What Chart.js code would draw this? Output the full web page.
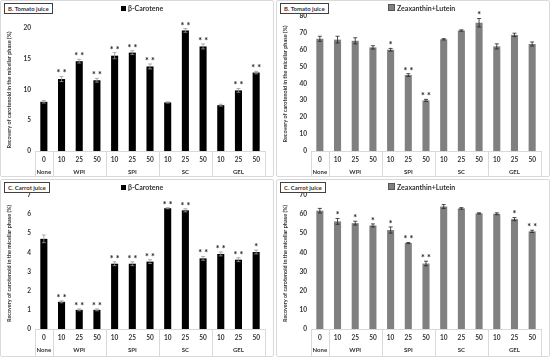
<!DOCTYPE html>
<html>
<head>
<meta charset="utf-8">
<script src="https://cdn.jsdelivr.net/npm/chart.js@4.4.1/dist/chart.umd.min.js"></script>
<style>
  body { margin: 0; background: #fff; width: 550px; height: 357px; position: relative; overflow: hidden; font-family: Lato, "Open Sans", sans-serif; }
  .panel { position: absolute; border: 1px solid #d9d9d9; border-radius: 2px; box-sizing: border-box; }
  .panel canvas { position: absolute; left: 0; top: 0; }
  .tag { position: absolute; left: 3px; top: 2px; border: 1px solid #404040; font-size: 6px; font-weight: bold; color: #333; padding: 1px 3px; line-height: 7px; background: #fff; white-space: nowrap; }
  .leg { position: absolute; top: 3px; font-size: 7px; font-weight: bold; color: #333; white-space: nowrap; line-height: 9px; }
  .sw { display: inline-block; width: 5px; height: 5px; margin-right: 2px; vertical-align: 0px; }
</style>
</head>
<body>
<div class="panel" style="left:0;top:0;width:274px;height:177px">
  <canvas id="c1" width="272" height="175"></canvas>
  <div class="tag">B. Tomato juice</div>
  <div class="leg" style="left:120px"><span class="sw" style="background:#000"></span>β-Carotene</div>
</div>
<div class="panel" style="left:276px;top:0;width:274px;height:177px">
  <canvas id="c2" width="272" height="175"></canvas>
  <div class="tag">B. Tomato juice</div>
  <div class="leg" style="left:111px"><span class="sw" style="background:#808080;border:0.5px solid #555"></span>Zeaxanthin+Lutein</div>
</div>
<div class="panel" style="left:0;top:179px;width:274px;height:178px">
  <canvas id="c3" width="272" height="176"></canvas>
  <div class="tag">C. Carrot juice</div>
  <div class="leg" style="left:120px"><span class="sw" style="background:#000"></span>β-Carotene</div>
</div>
<div class="panel" style="left:276px;top:179px;width:274px;height:178px">
  <canvas id="c4" width="272" height="176"></canvas>
  <div class="tag">C. Carrot juice</div>
  <div class="leg" style="left:111px"><span class="sw" style="background:#808080;border:0.5px solid #555"></span>Zeaxanthin+Lutein</div>
</div>
<script>
// categories
const doses = ['0', '10', '25', '50', '10', '25', '50', '10', '25', '50', '10', '25', '50'];
const groups = ['None', 'WPI', 'SPI', 'SC', 'GEL'];
const groupSizes = [1, 3, 3, 3, 3];

// B. tomato juice
const tomatoBeta = [8.0, 11.7, 14.6, 11.5, 15.5, 16.0, 13.75, 7.9, 19.6, 17.0, 7.45, 9.85, 12.75];
const tomatoBetaErr = [0.2, 0.4, 0.3, 0.3, 0.5, 0.3, 0.4, 0.1, 0.3, 0.4, 0.15, 0.3, 0.2];
const tomatoBetaSig = ['', '**', '**', '**', '**', '**', '**', '', '**', '**', '', '**', '**'];

const tomatoZL = [66.5, 66, 65.3, 61.4, 60, 45, 30, 66.2, 71.4, 76, 62, 68.8, 63.4];
const tomatoZLErr = [1.5, 2, 1.8, 1, 0.8, 0.8, 0.6, 0.4, 0.4, 2.5, 1.5, 1, 1.2];
const tomatoZLSig = ['', '', '', '', '*', '**', '**', '', '', '*', '', '', ''];

// C. carrot juice
const carrotBeta = [4.71, 1.42, 1.0, 1.0, 3.41, 3.41, 3.52, 6.31, 6.2, 3.69, 3.92, 3.62, 4.02];
const carrotBetaErr = [0.2, 0.05, 0.05, 0.05, 0.1, 0.1, 0.1, 0.03, 0.08, 0.1, 0.1, 0.1, 0.1];
const carrotBetaSig = ['', '**', '**', '**', '**', '**', '**', '**', '**', '**', '**', '**', '*'];

const carrotZL = [61.8, 56.2, 55.3, 54.1, 51.7, 44.9, 34.2, 64.0, 63.0, 60.4, 60.2, 57.4, 51.0];
const carrotZLErr = [1.2, 1.5, 1, 0.8, 1.6, 0.3, 1.2, 1.0, 0.4, 0.3, 0.5, 0.8, 0.6];
const carrotZLSig = ['', '*', '*', '*', '*', '**', '**', '', '', '', '', '*', '**'];

const yTitle = 'Recovery of carotenoid in the micellar phase (%)';
const txtColor = '#333';
const lineColor = '#d9d9d9';
const fontFam = 'Lato, "Open Sans", sans-serif';

// error bars, stars, group row, axis title
const extras = {
  id: 'extras',
  afterDatasetsDraw(chart, args, opts) {
    const ctx = chart.ctx;
    const y = chart.scales.y;
    const meta = chart.getDatasetMeta(0);
    ctx.save();
    meta.data.forEach((bar, i) => {
      const v = opts.values[i];
      const e = opts.errs[i];
      const yt = y.getPixelForValue(v + e);
      const yb = y.getPixelForValue(v - e);
      ctx.strokeStyle = opts.errColor;
      ctx.lineWidth = 0.8;
      ctx.beginPath();
      ctx.moveTo(bar.x, yt); ctx.lineTo(bar.x, yb);
      ctx.moveTo(bar.x - 2, yt); ctx.lineTo(bar.x + 2, yt);
      ctx.moveTo(bar.x - 2, yb); ctx.lineTo(bar.x + 2, yb);
      ctx.stroke();
      if (opts.sig[i]) {
        ctx.fillStyle = '#222';
        ctx.font = 'bold 9px ' + fontFam;
        ctx.textAlign = 'center';
        ctx.textBaseline = 'middle';
        ctx.fillText(opts.sig[i].split('').join(' '), bar.x, yt - 3);
      }
    });
    ctx.restore();
  },
  afterDraw(chart) {
    const ctx = chart.ctx;
    const x = chart.scales.x;
    const area = chart.chartArea;
    const half = (x.getPixelForValue(1) - x.getPixelForValue(0)) / 2;
    ctx.save();
    ctx.strokeStyle = lineColor;
    ctx.lineWidth = 1;
    let start = 0;
    const edges = [x.getPixelForValue(0) - half];
    groupSizes.forEach((n, g) => {
      const end = start + n - 1;
      const mid = (x.getPixelForValue(start) + x.getPixelForValue(end)) / 2;
      ctx.fillStyle = txtColor;
      ctx.font = 'bold 6px ' + fontFam;
      ctx.textAlign = 'center';
      ctx.textBaseline = 'middle';
      ctx.fillText(groups[g], mid, area.bottom + 21);
      edges.push(x.getPixelForValue(end) + half);
      start += n;
    });
    ctx.beginPath();
    edges.forEach(px => {
      const xx = Math.round(px) + 0.5;
      ctx.moveTo(xx, area.bottom);
      ctx.lineTo(xx, chart.height);
    });
    ctx.stroke();
    // y axis title
    ctx.translate(8, (area.top + area.bottom) / 2 + (chart.height - area.bottom) / 2 - 12);
    ctx.rotate(-Math.PI / 2);
    ctx.fillStyle = txtColor;
    ctx.font = 'bold 5.5px ' + fontFam;
    ctx.textAlign = 'center';
    ctx.textBaseline = 'middle';
    ctx.fillText(yTitle, 0, 0);
    ctx.restore();
  }
};

function makeChart(id, values, errs, sig, color, errColor, max, step, top, bottom) {
  const canvas = document.getElementById(id);
  const H = canvas.height;
  const W = canvas.width;
  return new Chart(canvas, {
    type: 'bar',
    data: {
      labels: doses,
      datasets: [{
        data: values,
        backgroundColor: color,
        barPercentage: 0.5,
        categoryPercentage: 0.8
      }]
    },
    options: {
      responsive: false,
      animation: false,
      layout: { padding: { top: top, right: W - 264, left: 0, bottom: 0 } },
      plugins: {
        legend: { display: false },
        tooltip: { enabled: false },
        extras: { values: values, errs: errs, sig: sig, errColor: errColor }
      },
      scales: {
        x: {
          grid: { display: false, drawTicks: false },
          border: { color: lineColor },
          ticks: { color: txtColor, font: { family: fontFam, size: 6.5, weight: 'bold' }, padding: 5, maxRotation: 0, autoSkip: false },
          afterFit: s => { s.height = H - bottom; }
        },
        y: {
          min: 0,
          max: max,
          grid: { display: false, drawTicks: false },
          border: { display: false },
          ticks: { stepSize: step, color: txtColor, font: { family: fontFam, size: 6.5, weight: 'bold' }, padding: 4 },
          afterFit: s => { s.width = 34; }
        }
      }
    },
    plugins: [extras]
  });
}

makeChart('c1', tomatoBeta, tomatoBetaErr, tomatoBetaSig, '#000', '#999', 20, 5, 27, 150);
makeChart('c2', tomatoZL, tomatoZLErr, tomatoZLSig, '#808080', '#222', 80, 10, 15, 150);
makeChart('c3', carrotBeta, carrotBetaErr, carrotBetaSig, '#000', '#999', 7, 1, 15, 149);
makeChart('c4', carrotZL, carrotZLErr, carrotZLSig, '#808080', '#222', 70, 10, 15, 149);
</script>
</body>
</html>
